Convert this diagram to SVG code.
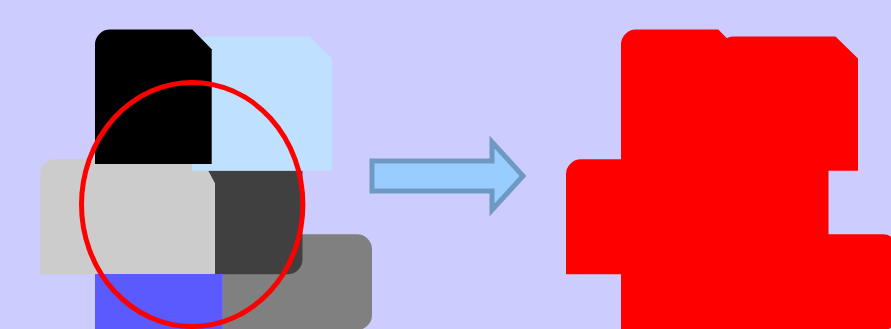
<svg xmlns="http://www.w3.org/2000/svg" width="891" height="329" viewBox="0 0 891 329">
  <defs>
    <style>
      .lblue { fill: #c0e0ff; }
      .black { fill: #000000; }
      .lgray { fill: #cccccc; }
      .dgray { fill: #404040; }
      .gray { fill: #808080; }
      .blue { fill: #5a5aff; }
    </style>
    <path id="pGray" d="M222.5,330 V234.3 H357 A15,15 0 0 1 372,249.3 V315 A15,15 0 0 1 357,330 Z"/>
    <path id="pDgray" d="M200,170.5 H302.5 V259.3 A15,15 0 0 1 287.5,274.3 H200 Z"/>
    <path id="pLgray" d="M40,274.3 V174.3 A15,15 0 0 1 55,159.3 H202.2 L215,183.3 V274.3 Z"/>
    <path id="pBlue" d="M95,274 H222.7 V330 H95 Z"/>
    <path id="pLblue" d="M192,170.7 V52 A15.5,15.5 0 0 1 207.5,36.5 H309.5 L332,58.5 V170.7 Z"/>
    <path id="pBlack" d="M95,164 V44.5 A15,15 0 0 1 110,29.5 H192.3 L211.7,49.3 V164 Z"/>
  </defs>
  <rect width="891" height="329" fill="#ccccff"/>

  <g id="source">
    <g id="gray-shape"><use href="#pGray" class="gray"/></g>
    <g id="darkgray-shape"><use href="#pDgray" class="dgray"/></g>
    <g id="lightgray-shape"><use href="#pLgray" class="lgray"/></g>
    <g id="blue-shape"><use href="#pBlue" class="blue"/></g>
    <g id="lightblue-shape"><use href="#pLblue" class="lblue"/></g>
    <g id="black-shape"><use href="#pBlack" class="black"/></g>
    <g id="red-ellipse"><ellipse cx="192.2" cy="204.5" rx="110.7" ry="122" fill="none" stroke="#ff0000" stroke-width="5"/></g>
  </g>

  <g id="connectors">
    <path d="M372,161 H492 V142 L523,176 L492,210 V191 H372 Z" fill="#99ccff" stroke="#6e99c2" stroke-width="5" stroke-linejoin="miter"/>
  </g>

  <g id="result" transform="translate(526,0)">
    <path fill="#ff0000" fill-rule="nonzero" d="M222.5,330 V234.3 H357 A15,15 0 0 1 372,249.3 V315 A15,15 0 0 1 357,330 Z
      M200,170.5 H302.5 V259.3 A15,15 0 0 1 287.5,274.3 H200 Z
      M40,274.3 V174.3 A15,15 0 0 1 55,159.3 H202.2 L215,183.3 V274.3 Z
      M95,274 H222.7 V330 H95 Z
      M192,170.7 V52 A15.5,15.5 0 0 1 207.5,36.5 H309.5 L332,58.5 V170.7 Z
      M95,164 V44.5 A15,15 0 0 1 110,29.5 H192.3 L211.7,49.3 V164 Z"/>
  </g>
</svg>
